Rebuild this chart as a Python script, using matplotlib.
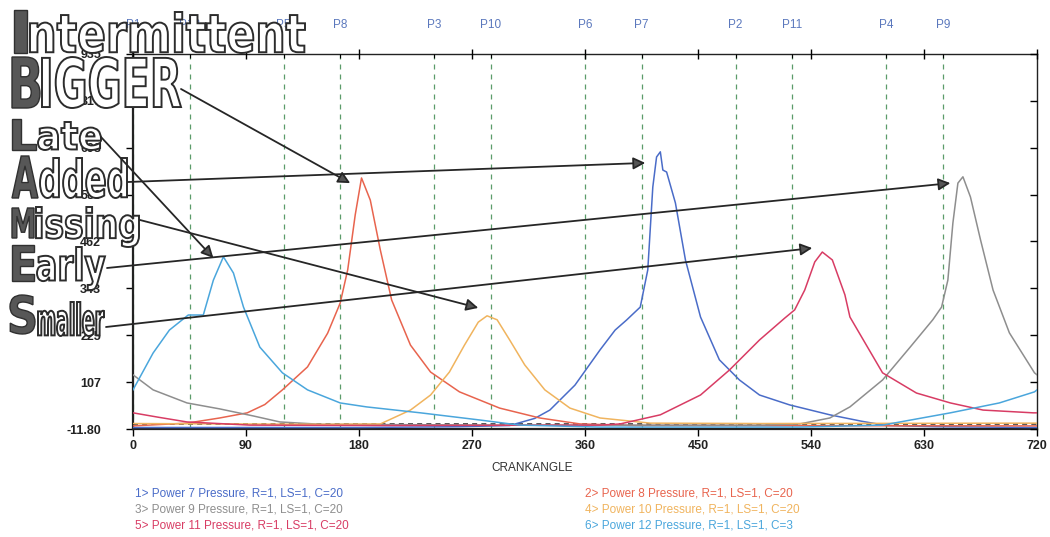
import matplotlib
matplotlib.use("Agg")
import matplotlib.pyplot as plt
from matplotlib.font_manager import FontProperties
from matplotlib.patches import PathPatch, ConnectionPatch
from matplotlib.textpath import TextPath
from matplotlib.transforms import Affine2D, blended_transform_factory

plt.rcParams["font.family"] = ["Liberation Sans", "DejaVu Sans"]

W, H = 1050, 537

# pressure traces: crank angle (deg) and pressure samples per cylinder
p7_angle = [0, 90, 180, 260, 300, 320, 332, 352, 372, 384, 393, 404, 410, 414,
            417, 420, 422, 425, 432, 440, 452, 467, 483, 499, 523, 555, 580,
            600, 640, 720]
p7_value = [-8, -8, -8, -6, -3, 15, 36, 99, 188, 238, 263, 296, 390, 599,
            675, 688, 642, 637, 559, 415, 271, 163, 112, 74, 49, 24, 8,
            -3, -6, -8]

p8_angle = [0, 43, 69, 91, 105, 119, 139, 155, 165, 171, 177, 182, 189, 197,
            206, 221, 237, 260, 292, 324, 356, 400, 720]
p8_value = [-4, 3, 16, 29, 50, 87, 145, 230, 306, 390, 529, 622, 566, 440,
            314, 200, 132, 82, 41, 16, 1, -3, -4]

p9_angle = [0, 16, 43, 69, 96, 117, 150, 300, 500, 531, 555, 571, 597, 619,
            637, 644, 649, 653, 657, 661, 667, 675, 685, 698, 718, 720]
p9_value = [125, 87, 54, 39, 21, 6, 0, -2, -2, 1, 16, 44, 112, 195,
            264, 296, 364, 508, 609, 625, 574, 466, 339, 231, 130, 125]

p10_angle = [0, 150, 197, 221, 237, 252, 264, 275, 282, 290, 300, 312, 328,
             348, 372, 412, 500, 720]
p10_value = [2, 0, 1, 36, 74, 132, 200, 258, 274, 264, 213, 150, 87,
             41, 16, 3, 2, 3]

p11_angle = [0, 20, 43, 93, 200, 372, 388, 420, 452, 475, 499, 519, 527, 535,
             543, 549, 557, 567, 571, 597, 624, 651, 677, 717, 720]
p11_value = [29, 18, 6, -2, -3, -2, 1, 24, 74, 137, 213, 268, 289, 339,
             410, 435, 415, 327, 271, 130, 79, 54, 36, 29, 29]

p12_angle = [0, 16, 29, 44, 56, 64, 72, 80, 88, 101, 119, 139, 165, 186, 229,
             276, 308, 372, 452, 531, 597, 651, 690, 718, 720]
p12_value = [87, 180, 238, 276, 276, 364, 423, 382, 296, 195, 130, 87, 54, 44, 29,
             11, -2, -7, -7, -7, -2, 29, 54, 82, 87]

baseline_angle = [0, 720]
baseline_value = [1, 1]

traces = [
    ("1> Power 7 Pressure, R=1, LS=1, C=20", p7_angle, p7_value, "#4a6cc8"),
    ("2> Power 8 Pressure, R=1, LS=1, C=20", p8_angle, p8_value, "#e8644e"),
    ("3> Power 9 Pressure, R=1, LS=1, C=20", p9_angle, p9_value, "#8e8e8e"),
    ("4> Power 10 Pressure, R=1, LS=1, C=20", p10_angle, p10_value, "#f0b45e"),
    ("5> Power 11 Pressure, R=1, LS=1, C=20", p11_angle, p11_value, "#d83c64"),
    ("6> Power 12 Pressure, R=1, LS=1, C=3", p12_angle, p12_value, "#4aa6dc"),
]

# firing TDC markers, V12 order 1-12-5-8-3-10-6-7-2-11-4-9
tdc_labels = ["P1", "P12", "P5", "P8", "P3", "P10", "P6", "P7", "P2", "P11", "P4", "P9"]
tdc_angle = [0, 45, 120, 165, 240, 285, 360, 405, 480, 525, 600, 645]

y_ticks = [-11.8, 106.55, 224.9, 343.25, 461.6, 579.95, 698.3, 816.65, 935]
y_tick_labels = ["-11.80", "107", "225", "343", "462", "580", "698", "817", "935"]
x_ticks = [0, 90, 180, 270, 360, 450, 540, 630, 720]

# callout words: first letter, remainder, ink boxes in pixels (x0, y0, x1, y1)
words = [
    ("I", "ntermittent", (14, 10, 27, 53), (30, 12, 305, 53)),
    ("B", "IGGER", (12, 57, 40, 108), (42, 57, 181, 108)),
    ("L", "ate", (12, 119, 36, 150), (38, 122, 101, 150)),
    ("A", "dded", (12, 156, 38, 198), (40, 158, 127, 198)),
    ("M", "issing", (12, 208, 34, 238), (36, 207, 139, 247)),
    ("E", "arly", (12, 245, 34, 281), (37, 247, 105, 290)),
    ("S", "maller", (10, 295, 35, 334), (38, 302, 104, 336)),
]

# arrows: tail in pixels, head at (crank angle, pressure)
arrow_tail = [(181, 89), (101, 137), (128, 182), (140, 220), (107, 268), (106, 327)]
arrow_head = [(173, 609), (64, 420), (408, 660), (275, 294), (651, 609), (541, 445)]

fig = plt.figure(figsize=(W / 100, H / 100), dpi=100)
ax = fig.add_axes([133 / W, 1 - 429 / H, 904 / W, 375 / H])

for label, ang, val, color in traces:
    ax.plot(ang, val, color=color, lw=1.1, zorder=3)
ax.plot(baseline_angle, baseline_value, color="#3a3a3a", lw=1.2,
        dashes=(3, 2.5), zorder=2.5)

for a in tdc_angle:
    ax.axvline(a, color="#5c9c6a", lw=0.9, dashes=(4, 4), zorder=1)

top_tf = blended_transform_factory(ax.transData, ax.transAxes)
for name, a in zip(tdc_labels, tdc_angle):
    ax.text(a, 1.077, name, transform=top_tf, ha="center", va="center",
            fontsize=8.5, color="#5b78bd", clip_on=False)

ax.set_xlim(0, 720)
ax.set_ylim(-11.8, 935)
ax.set_xticks(x_ticks)
ax.set_yticks(y_ticks)
ax.set_yticklabels(y_tick_labels)
ax.tick_params(axis="x", direction="out", length=5, width=1, pad=3,
               labelsize=9)
ax.tick_params(axis="y", direction="out", length=5, width=1, pad=18,
               labelsize=9)
for t in ax.get_xticklabels() + ax.get_yticklabels():
    t.set_fontweight("bold")
    t.set_color("#222222")
for s in ax.spines.values():
    s.set_color("#222222")
    s.set_linewidth(1.0)
ax.spines["left"].set_linewidth(1.6)
ax.spines["bottom"].set_linewidth(1.6)

# right-hand ticks point inward, top carries 90 deg ticks plus TDC marks
ax_r = ax.twinx()
ax_r.set_ylim(ax.get_ylim())
ax_r.set_yticks(y_ticks)
ax_r.tick_params(axis="y", direction="in", length=5, width=1, labelright=False)
ax_t = ax.twiny()
ax_t.set_xlim(ax.get_xlim())
ax_t.set_xticks(x_ticks)
ax_t.set_xticks(tdc_angle, minor=True)
ax_t.tick_params(axis="x", which="major", direction="inout", length=7, width=1,
                 labeltop=False)
ax_t.tick_params(axis="x", which="minor", direction="in", length=3, width=0.8)
for extra in (ax_r, ax_t):
    for s in extra.spines.values():
        s.set_visible(False)

fig.text(532 / W, 1 - 468 / H, "CRANKANGLE", ha="center", va="center",
         fontsize=8.5, color="#333333")

legend_x = [135, 585]
legend_y = [493, 509, 525]
for i, (label, ang, val, color) in enumerate(traces):
    col, row = i % 2, i // 2
    fig.text(legend_x[col] / W, 1 - legend_y[row] / H, label, ha="left",
             va="center", fontsize=8.5, color=color)

# pixel coordinates measured from the top-left corner
px_tf = Affine2D().scale(1 / W, -1 / H).translate(0, 1) + fig.transFigure
word_font = FontProperties(family=["Liberation Sans Narrow", "DejaVu Sans"],
                           weight="bold")


def place_word(text, box, face, edge, lw):
    x0, y0, x1, y1 = box
    path = TextPath((0, 0), text, size=100, prop=word_font)
    ext = path.get_extents()
    sx = (x1 - x0) / ext.width
    sy = (y1 - y0) / ext.height
    tf = (Affine2D().translate(-ext.x0, -ext.y0).scale(sx, -sy)
          .translate(x0, y1) + px_tf)
    patch = PathPatch(path, transform=tf, facecolor=face, edgecolor=edge,
                      lw=lw, zorder=5)
    fig.add_artist(patch)


for first, rest, box_first, box_rest in words:
    place_word(first, box_first, "#575757", "#303030", 1.0)
    place_word(rest, box_rest, "white", "#2c2c2c", 1.4)

for tail, head in zip(arrow_tail, arrow_head):
    arrow = ConnectionPatch(xyA=tail, coordsA=px_tf, xyB=head,
                            coordsB=ax.transData, arrowstyle="-|>",
                            mutation_scale=18, lw=1.3, color="#262626",
                            zorder=6)
    arrow.set_facecolor("#555555")
    fig.add_artist(arrow)

fig.savefig("out.png", dpi=100)
